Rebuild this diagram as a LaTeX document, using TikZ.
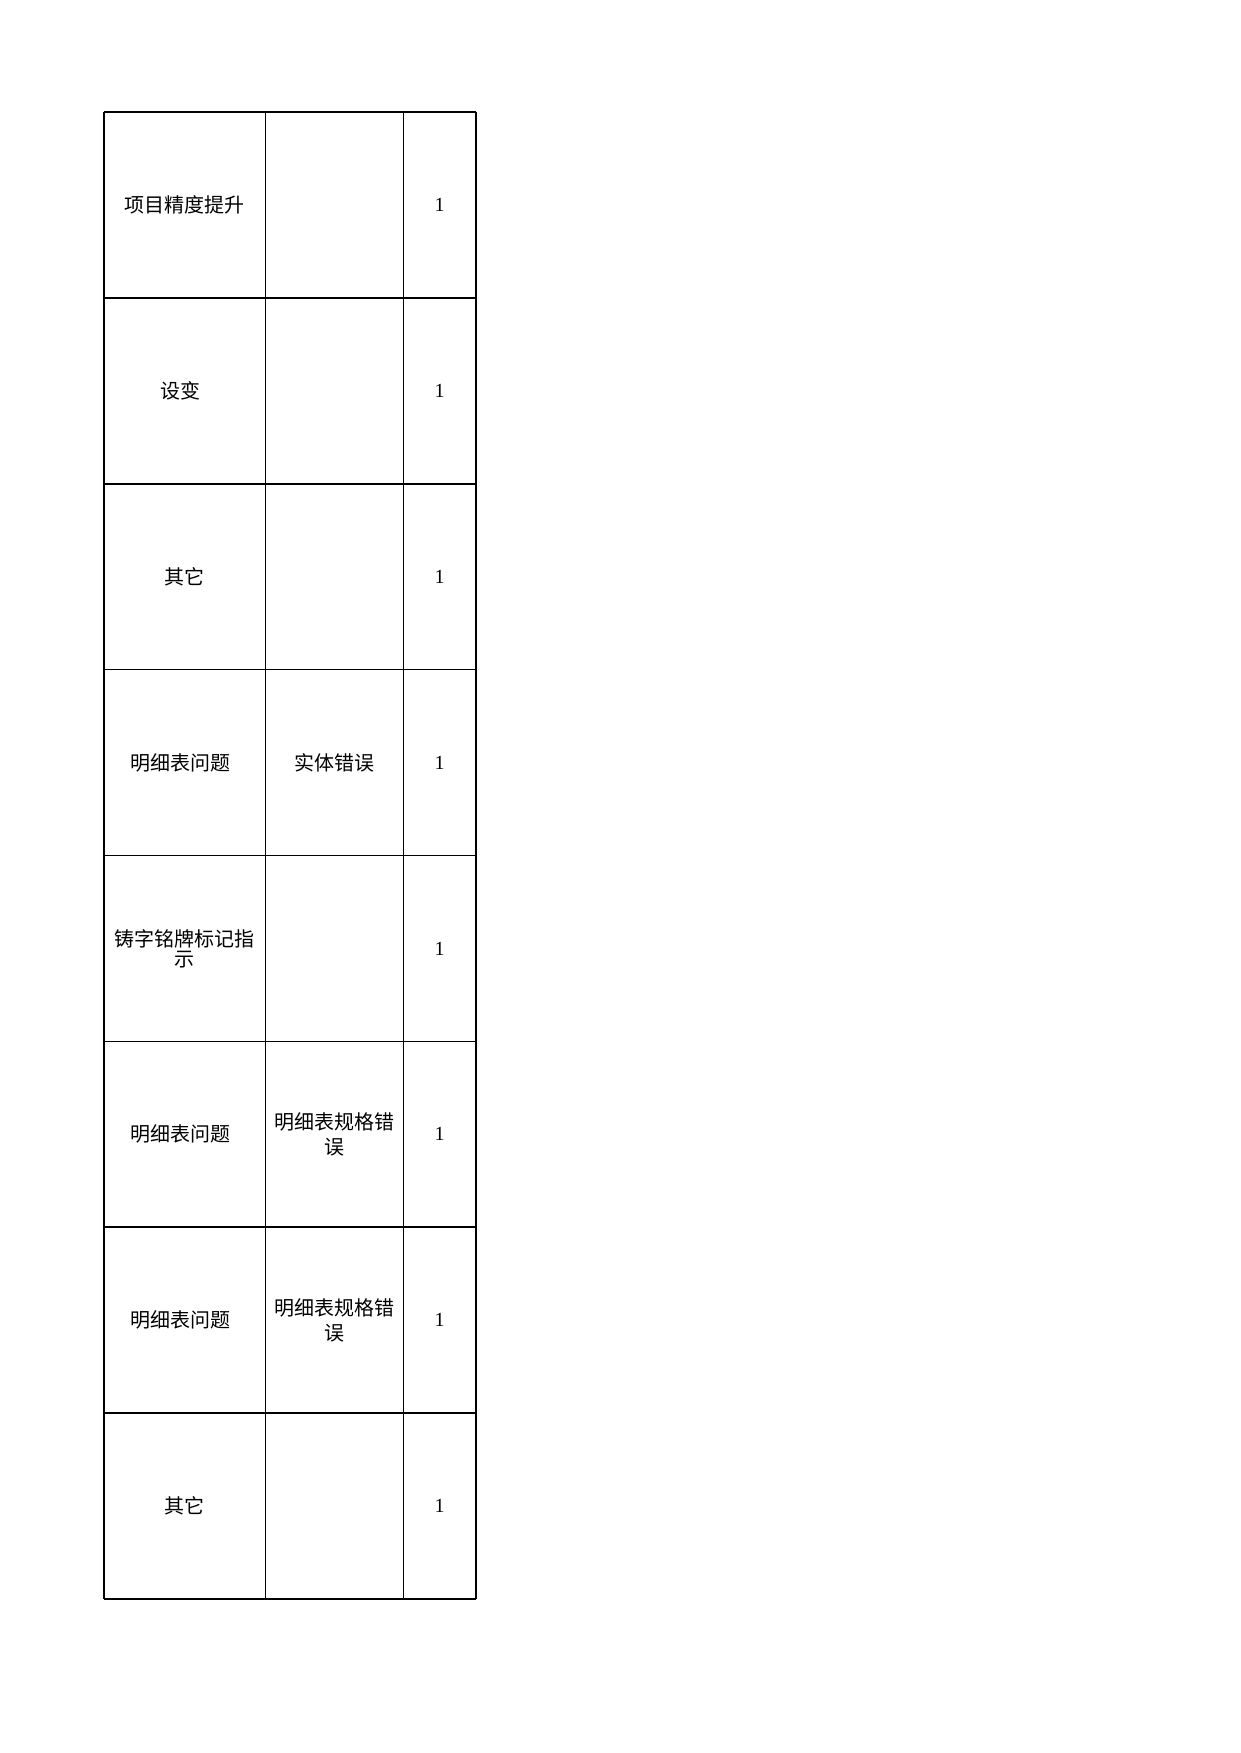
\documentclass[tikz,border=0pt]{standalone}
\usepackage{fontspec}
\newfontfamily\cjk{Noto Sans CJK SC}
\newfontfamily\numfont{Liberation Serif}
\begin{document}
\begin{tikzpicture}[x=1pt,y=-1pt,
  gridline/.style={line width=1.6pt,black},
  lefttext/.style={font=\cjk\fontsize{20}{20}\selectfont,align=center,inner sep=0pt},
  midtext/.style={font=\cjk\fontsize{20}{25}\selectfont,align=center,inner sep=0pt},
  numtext/.style={font=\numfont\fontsize{20}{20}\selectfont,inner sep=0pt}]
\useasboundingbox (0,0) rectangle (1240,1753);
\def\xa{104}\def\xb{265.3}\def\xc{403.3}\def\xd{476}
\def\rh{185.875}
% vertical lines
\foreach \xx in {\xa,\xb,\xc,\xd}
  \draw[gridline] (\xx,112) -- (\xx,1599);
% horizontal lines
\foreach \i in {0,...,8}
  \draw[gridline] (\xa,112+\i*\rh) -- (\xd,112+\i*\rh);
% left column
\node[lefttext] (l1) at (184.6,112+0.5*\rh) {项目精度提升};
\node[lefttext] (l2) at (180,112+1.5*\rh) {设变};
\node[lefttext] (l3) at (184.6,112+2.5*\rh) {其它};
\node[lefttext] (l4) at (180,112+3.5*\rh) {明细表问题};
\node[lefttext] (l5) at (184.6,112+4.5*\rh) {铸字铭牌标记指\\示};
\node[lefttext] (l6) at (180,112+5.5*\rh) {明细表问题};
\node[lefttext] (l7) at (180,112+6.5*\rh) {明细表问题};
\node[lefttext] (l8) at (184.6,112+7.5*\rh) {其它};
% middle column
\node[midtext] (m4) at (334.3,112+3.5*\rh) {实体错误};
\node[midtext] (m6) at (334.3,112+5.5*\rh) {明细表规格错\\误};
\node[midtext] (m7) at (334.3,112+6.5*\rh) {明细表规格错\\误};
% right column
\foreach \i in {1,...,8}
  \node[numtext] (n\i) at (439.7,112+\i*\rh-0.5*\rh) {1};
\end{tikzpicture}
\end{document}
